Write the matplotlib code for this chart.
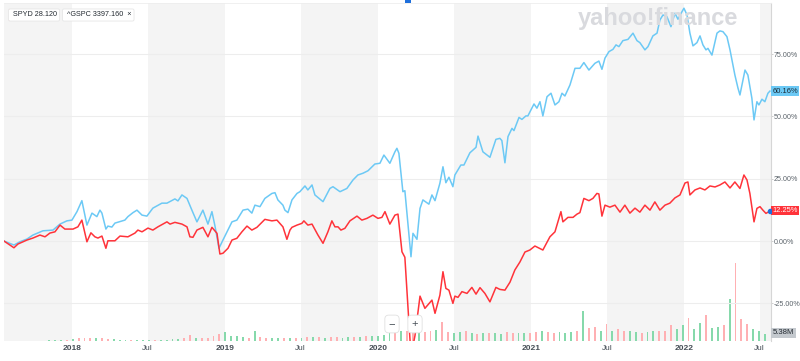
import numpy as np
import pandas as pd
import matplotlib
matplotlib.use("Agg")
from matplotlib import pyplot as plt
from matplotlib import dates as mdates
from matplotlib import transforms as mtrans
from matplotlib.patches import Rectangle

plt.rcParams['font.family'] = ['Liberation Sans', 'DejaVu Sans']

# time axis as decimal years, % change since start
gspc_t = [2017.556, 2017.621, 2017.660, 2017.706, 2017.745, 2017.810, 2017.876, 2017.922, 2017.967, 2018.000,
          2018.033, 2018.065, 2018.098, 2018.131, 2018.163, 2018.183, 2018.196, 2018.222, 2018.235, 2018.261,
          2018.281, 2018.346, 2018.366, 2018.399, 2018.425, 2018.458, 2018.490, 2018.529, 2018.588, 2018.621,
          2018.673, 2018.693, 2018.719, 2018.752, 2018.784, 2018.817, 2018.856, 2018.889, 2018.915, 2018.935,
          2018.961, 2018.987, 2019.046, 2019.078, 2019.118, 2019.150, 2019.176, 2019.196, 2019.229, 2019.261,
          2019.307, 2019.327, 2019.346, 2019.379, 2019.392, 2019.412, 2019.438, 2019.471, 2019.490, 2019.523,
          2019.542, 2019.569, 2019.588, 2019.641, 2019.686, 2019.706, 2019.752, 2019.797, 2019.837, 2019.869,
          2019.902, 2019.935, 2019.980, 2020.013, 2020.039, 2020.078, 2020.111, 2020.124, 2020.137, 2020.163,
          2020.176, 2020.216, 2020.229, 2020.255, 2020.275, 2020.294, 2020.333, 2020.353, 2020.373, 2020.405,
          2020.425, 2020.444, 2020.464, 2020.490, 2020.503, 2020.542, 2020.562, 2020.601, 2020.641, 2020.654,
          2020.686, 2020.732, 2020.771, 2020.797, 2020.810, 2020.830, 2020.850, 2020.876, 2020.889, 2020.922,
          2020.941, 2020.967, 2020.980, 2021.020, 2021.039, 2021.059, 2021.078, 2021.105, 2021.131, 2021.157,
          2021.183, 2021.203, 2021.222, 2021.255, 2021.288, 2021.320, 2021.346, 2021.379, 2021.418, 2021.444,
          2021.464, 2021.484, 2021.510, 2021.536, 2021.556, 2021.575, 2021.601, 2021.634, 2021.667, 2021.693,
          2021.712, 2021.745, 2021.765, 2021.797, 2021.824, 2021.843, 2021.863, 2021.889, 2021.915, 2021.941,
          2021.961, 2021.987, 2022.000, 2022.020, 2022.039, 2022.059, 2022.085, 2022.105, 2022.124, 2022.144,
          2022.157, 2022.183, 2022.216, 2022.235, 2022.255, 2022.281, 2022.301, 2022.314, 2022.333, 2022.353,
          2022.366, 2022.399, 2022.418, 2022.444, 2022.458, 2022.477, 2022.490, 2022.510, 2022.529, 2022.549,
          2022.562]
gspc_pct = [0.0, -1.6, -0.3, 0.8, 2.4, 4.1, 4.4, 6.8, 8.1, 8.4,
            11.8, 16.2, 6.4, 11.2, 9.8, 12.4, 11.2, 4.8, 6.0, 5.6,
            7.2, 8.4, 9.8, 11.4, 12.4, 10.4, 10.0, 13.2, 15.2, 15.2,
            16.9, 16.1, 18.5, 17.1, 12.4, 7.7, 12.4, 6.8, 11.8, 6.0,
            -2.9, 0.4, 7.7, 8.4, 12.4, 12.8, 11.2, 14.4, 13.8, 17.1,
            19.1, 19.4, 16.5, 14.4, 12.4, 11.4, 16.5, 19.1, 19.8, 22.1,
            20.5, 22.5, 18.5, 15.8, 21.1, 21.8, 19.8, 21.1, 24.5, 26.5,
            27.2, 28.2, 30.9, 31.2, 34.5, 31.2, 35.8, 37.2, 35.2, 19.8,
            20.2, -6.3, 3.1, 0.7, 13.1, 16.5, 14.8, 18.5, 16.2, 23.2,
            29.8, 23.4, 25.6, 21.8, 26.5, 30.5, 30.5, 35.4, 37.6, 42.1,
            35.8, 33.6, 40.8, 41.2, 40.3, 31.4, 41.9, 45.2, 44.3, 49.6,
            48.8, 50.2, 50.2, 55.0, 53.3, 55.9, 50.2, 57.9, 59.3, 54.6,
            55.9, 59.3, 58.2, 62.6, 69.3, 69.3, 71.6, 68.6, 71.3, 72.2,
            68.9, 73.4, 76.0, 76.9, 78.7, 78.0, 80.4, 80.9, 83.4, 80.4,
            79.6, 76.7, 78.0, 82.3, 83.4, 88.7, 90.7, 90.0, 86.0, 91.4,
            89.0, 92.0, 93.4, 90.7, 83.4, 78.3, 79.6, 82.3, 78.7, 76.7,
            77.3, 74.6, 83.4, 84.3, 84.0, 82.0, 76.7, 72.6, 66.6, 61.4,
            58.6, 68.6, 66.6, 57.3, 48.6, 55.9, 54.6, 56.9, 55.9, 59.3,
            60.16]

spyd_t = [2017.556, 2017.621, 2017.647, 2017.706, 2017.745, 2017.791, 2017.824, 2017.856, 2017.889, 2017.922,
          2017.954, 2018.007, 2018.039, 2018.065, 2018.098, 2018.124, 2018.150, 2018.170, 2018.196, 2018.222,
          2018.235, 2018.281, 2018.314, 2018.366, 2018.412, 2018.431, 2018.458, 2018.497, 2018.529, 2018.562,
          2018.595, 2018.621, 2018.641, 2018.673, 2018.719, 2018.752, 2018.771, 2018.791, 2018.817, 2018.856,
          2018.889, 2018.915, 2018.948, 2018.967, 2018.987, 2019.020, 2019.046, 2019.078, 2019.111, 2019.144,
          2019.176, 2019.209, 2019.261, 2019.307, 2019.340, 2019.379, 2019.405, 2019.425, 2019.438, 2019.471,
          2019.503, 2019.516, 2019.542, 2019.569, 2019.608, 2019.641, 2019.673, 2019.699, 2019.719, 2019.739,
          2019.758, 2019.784, 2019.817, 2019.863, 2019.895, 2019.928, 2019.967, 2020.000, 2020.026, 2020.046,
          2020.078, 2020.111, 2020.131, 2020.157, 2020.176, 2020.216, 2020.242, 2020.275, 2020.307, 2020.353,
          2020.373, 2020.405, 2020.425, 2020.444, 2020.464, 2020.490, 2020.503, 2020.523, 2020.549, 2020.582,
          2020.614, 2020.641, 2020.667, 2020.699, 2020.732, 2020.771, 2020.797, 2020.830, 2020.863, 2020.895,
          2020.928, 2020.961, 2020.993, 2021.026, 2021.078, 2021.124, 2021.157, 2021.196, 2021.209, 2021.242,
          2021.275, 2021.301, 2021.320, 2021.346, 2021.379, 2021.405, 2021.431, 2021.444, 2021.464, 2021.484,
          2021.516, 2021.549, 2021.582, 2021.614, 2021.647, 2021.680, 2021.712, 2021.745, 2021.778, 2021.810,
          2021.843, 2021.876, 2021.908, 2021.941, 2021.974, 2022.007, 2022.026, 2022.039, 2022.072, 2022.105,
          2022.137, 2022.170, 2022.203, 2022.235, 2022.268, 2022.301, 2022.333, 2022.366, 2022.392, 2022.412,
          2022.431, 2022.458, 2022.477, 2022.497, 2022.516, 2022.536, 2022.556, 2022.562]
spyd_pct = [0.0, -2.7, -1.2, 0.4, 1.2, 2.4, 1.7, 3.2, 3.7, 6.4,
            4.8, 4.8, 5.7, 8.4, -0.3, 3.3, 1.7, 1.2, 2.0, -2.9,
            0.1, 0.1, 2.0, 1.7, 3.2, 4.4, 3.7, 5.2, 4.4, 5.7,
            6.8, 7.7, 6.8, 7.5, 6.8, 5.7, 1.7, 1.5, 4.4, 5.5,
            1.7, 5.5, 3.1, -5.2, -4.9, -2.9, 0.4, 1.1, 3.7, 6.0,
            4.4, 5.5, 8.7, 8.1, 8.4, 5.7, 0.7, 4.4, 5.5, 6.4,
            7.1, 8.1, 6.4, 6.8, 2.4, -0.9, 3.7, 8.1, 5.7, 5.7,
            4.4, 5.1, 8.1, 10.0, 8.4, 9.1, 10.4, 9.1, 9.5, 11.8,
            6.8, 10.4, 10.8, -4.3, -6.5, -46.0, -38.0, -22.1, -27.0, -23.7,
            -29.0, -21.7, -12.3, -19.0, -19.7, -25.0, -22.1, -22.6, -20.3, -21.0,
            -18.6, -21.3, -18.7, -21.0, -24.4, -18.6, -19.4, -19.7, -16.5, -11.6,
            -8.4, -4.4, -3.6, -2.0, -3.6, 1.7, 3.7, 11.8, 7.7, 9.5,
            9.5, 10.8, 11.4, 17.1, 16.2, 17.1, 19.1, 18.9, 10.0, 14.4,
            13.6, 14.4, 11.6, 14.4, 11.2, 13.2, 11.6, 14.4, 12.4, 15.7,
            12.4, 14.4, 15.2, 17.3, 18.5, 23.3, 23.7, 18.5, 20.5, 21.3,
            20.5, 22.1, 21.7, 22.5, 23.7, 21.3, 23.7, 21.1, 26.5, 24.5,
            19.1, 7.7, 13.1, 13.8, 12.4, 11.1, 11.8, 12.25]

# SPYD volume, one bar every two weeks (millions)
vol_start = '2017-11-08'
volume = [0.8, 0.8, 1.0, 1.0,
          1.5, 2.0, 2.5, 2.0, 2.2, 2.0, 1.8, 1.5,
          0.8, 0.6, 0.5, 0.7, 0.6, 0.8, 0.6, 0.8, 1.0,
          1.2, 1.5, 2.5, 4.4,
          2.5, 2.0, 2.3, 4.0, 5.5, 7.0,
          4.0, 3.5, 3.0, 2.5, 7.5,
          3.0, 2.5, 2.5, 2.0, 2.2, 2.5, 2.3,
          2.5, 3.0, 3.2, 2.8, 2.5, 3.0, 2.7, 2.5, 3.0, 3.3, 3.0, 3.5, 3.5, 4.0,
          4.5, 6.0, 7.0, 7.5, 8.0, 7.0, 6.5, 7.0, 8.0, 8.5,
          14.5,
          7.0, 6.0, 7.0, 7.5, 6.5, 5.5, 6.0, 6.5, 6.0, 5.5, 7.0, 6.0, 6.5,
          6.0, 6.5, 7.0, 8.0, 7.0, 6.5, 7.0, 6.5, 7.0, 7.5, 23.0,
          10, 11, 8, 13, 8, 9, 7.5,
          8, 7, 6.5, 7, 7.5, 8, 7.5, 12.5,
          9, 12, 18, 9, 14, 20, 10,
          11, 12, 32, 60, 17, 13, 9, 8,
          5.38]
vol_dir = ("gggr" "grrrgrrg" "ggrgggrgg" "ggrr" "grrrrg" "gggrg" "rrggrgr"
           "grgrgrrggrgrgg" "ggrgrrgrrg" "r" "rggrgrgrggrrg" "grrgrrgggrg"
           "rrgrgrr" "ggrggrrr" "ggrggrg" "grgrrrgg" "g")

x_ticks = ['2018-01-01', '2018-07-01', '2019-01-01', '2019-07-01', '2020-01-01',
           '2020-07-01', '2021-01-01', '2021-07-01', '2022-01-01', '2022-07-01']
x_labels = ['2018', 'Jul', '2019', 'Jul', '2020', 'Jul', '2021', 'Jul', '2022', 'Jul']
y_ticks = [-25, 0, 25, 50, 75]

RED = '#ff333a'
BLUE = '#6cc9f5'


def yr_to_num(yrs):
    yrs = np.asarray(yrs, dtype=float)
    d = pd.Timestamp('2018-01-01') + pd.to_timedelta((yrs - 2018) * 365.25, unit='D')
    return mdates.date2num(d.to_pydatetime())


fig = plt.figure(figsize=(8, 3.61), dpi=100)
W, H = 800, 361
ax2 = fig.add_axes([4 / W, 20 / H, 767 / W, 338 / H])
ax = fig.add_axes([4 / W, 20 / H, 767 / W, 338 / H], sharex=ax2)
ax.set_zorder(ax2.get_zorder() + 1)
ax.patch.set_visible(False)

x0, x1 = yr_to_num([2017.556, 2022.569])
ax2.set_xlim(x0, x1)

# half-year bands (Jul-Dec shaded)
for y in range(2017, 2023):
    a = mdates.date2num(pd.Timestamp(f'{y}-07-01'))
    b = mdates.date2num(pd.Timestamp(f'{y + 1}-01-01'))
    ax2.axvspan(max(a, x0), min(b, x1), color='#f4f4f4', lw=0, zorder=0)

# volume
vol_x = mdates.date2num(pd.date_range(vol_start, periods=len(volume), freq='14D').to_pydatetime())
vol_c = ['#86d9ab' if c == 'g' else '#ffb0b3' for c in vol_dir]
ax2.bar(vol_x, volume, width=4.5, color=vol_c, zorder=2)
ax2.set_ylim(0, 260)
ax2.axis('off')

# lines
ax.plot(yr_to_num(gspc_t), gspc_pct, color=BLUE, lw=1.1, zorder=3)
ax.plot(yr_to_num(spyd_t), spyd_pct, color=RED, lw=1.1, zorder=4)
ax.plot(yr_to_num(spyd_t[-1:]), spyd_pct[-1:], 'o', ms=3, color='#1e6fdc', zorder=5)
ax.set_ylim(-40.1, 95.5)

ax.set_yticks(y_ticks)
ax.grid(axis='y', color='#ededed', lw=0.8, zorder=1)
ax.yaxis.tick_right()
ax.set_yticklabels([f'{v:.2f}%' for v in y_ticks])
ax.tick_params(axis='y', length=1.5, width=0.6, color='#c8c8c8', pad=0.5, labelsize=5.1, labelcolor='#5b636a')

ax.set_xticks(mdates.date2num(pd.to_datetime(x_ticks).to_pydatetime()))
ax.set_xticklabels(x_labels)
ax.tick_params(axis='x', length=0, pad=3, labelsize=6, labelcolor='#464e56')
for lab in ax.get_xticklabels():
    if lab.get_text() != 'Jul':
        lab.set_fontweight('bold')

for s in ['left', 'bottom']:
    ax.spines[s].set_visible(False)
ax.spines['right'].set_color('#d6d6d6')
ax.spines['top'].set_color('#eeeeee')
ax.spines['right'].set_linewidth(0.8)
ax.spines['top'].set_linewidth(0.6)

# end value tags
tr = mtrans.blended_transform_factory(ax.transAxes, ax.transData)
ax.text(1.002, gspc_pct[-1], f'{gspc_pct[-1]:.2f}%', transform=tr, va='center', ha='left',
        fontsize=5.4, color='#1b2a35',
        bbox=dict(boxstyle='square,pad=0.15', fc=BLUE, ec='none'))
ax.text(1.002, spyd_pct[-1], f'{spyd_pct[-1]:.2f}%', transform=tr, va='center', ha='left',
        fontsize=5.4, color='white',
        bbox=dict(boxstyle='square,pad=0.15', fc=RED, ec='none'))
fig.text(773 / W, 1 - 333 / H, f'{volume[-1]:.2f}M', va='center', ha='left', fontsize=5.6,
         color='#232a31', bbox=dict(boxstyle='square,pad=0.2', fc='#c4c9ce', ec='none'))

# watermark
fig.text(658 / W, 1 - 19 / H, 'yahoo!finance', ha='center', va='center', fontsize=17,
         fontweight='bold', color='#d9dade')

# legend chips
fig.text(11 / W, 1 - 15 / H, ' SPYD 28.120', ha='left', va='center', fontsize=5.2, color='#232a31',
         bbox=dict(boxstyle='round,pad=0.35,rounding_size=0.2', fc='white', ec='#e6e6e6', lw=0.6))
fig.text(65 / W, 1 - 15 / H, ' ^GSPC 3397.160  \u00d7', ha='left', va='center', fontsize=5.2,
         color='#232a31',
         bbox=dict(boxstyle='round,pad=0.35,rounding_size=0.2', fc='white', ec='#e6e6e6', lw=0.6))
fig.add_artist(Rectangle((9 / W, 1 - 21 / H), 2 / W, 12 / H, transform=fig.transFigure,
                         color=RED, lw=0))
fig.add_artist(Rectangle((63 / W, 1 - 21 / H), 2 / W, 12 / H, transform=fig.transFigure,
                         color=BLUE, lw=0))
fig.add_artist(Rectangle((405 / W, 1 - 3 / H), 6 / W, 3 / H, transform=fig.transFigure,
                         color='#1e6fdc', lw=0))

# zoom buttons
fig.text(392 / W, 1 - 324 / H, '\u2212', ha='center', va='center', fontsize=8, color='#464e56',
         bbox=dict(boxstyle='round,pad=0.35', fc='white', ec='#e0e0e0', lw=0.6))
fig.text(415 / W, 1 - 324 / H, '+', ha='center', va='center', fontsize=8, color='#464e56',
         bbox=dict(boxstyle='round,pad=0.35', fc='white', ec='#e0e0e0', lw=0.6))

fig.savefig('out.png', dpi=100)
